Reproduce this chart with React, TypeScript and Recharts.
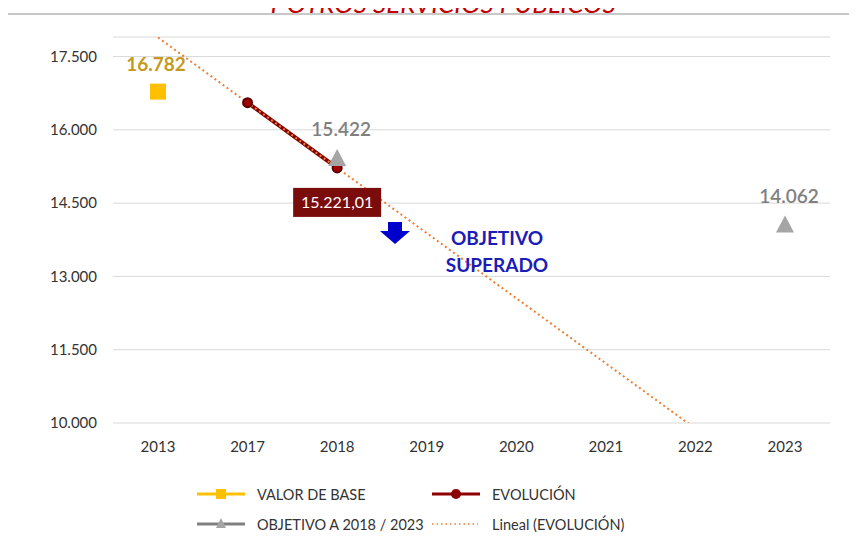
import { Line, LineChart, CartesianGrid, XAxis, YAxis } from "recharts";

const YEARS = ["2013", "2017", "2018", "2019", "2020", "2021", "2022", "2023"];
const VALOR_BASE = [16782, null, null, null, null, null, null, null];
const EVOLUCION = [null, 16555, 15221.01, null, null, null, null, null];
const OBJETIVO = [null, null, 15422, null, null, null, null, 14062];
const LINEAL = [17890, 16555, 15221, 13887, 12553, 11219, 9885, null];
const Y_TICKS = [10000, 11500, 13000, 14500, 16000, 17500];

const FONT = "Lato, 'Open Sans', sans-serif";

const data = YEARS.map((year, i) => ({
  year,
  base: VALOR_BASE[i],
  evol: EVOLUCION[i],
  obj: OBJETIVO[i],
  trend: LINEAL[i],
}));

const fmt = (v: number) => Math.round(v).toLocaleString("de-DE");

function SquareDot(props: any) {
  const { cx, cy, value, index } = props;
  if (value == null || cx == null || cy == null) return <g key={`s-${index}`} />;
  return <rect key={`s-${index}`} x={cx - 8} y={cy - 8} width={16} height={16} fill="#FFC000" />;
}

function TriangleDot(props: any) {
  const { cx, cy, value, index } = props;
  if (value == null || cx == null || cy == null) return <g key={`t-${index}`} />;
  return (
    <polygon
      key={`t-${index}`}
      points={`${cx},${cy - 9} ${cx + 9},${cy + 8} ${cx - 9},${cy + 8}`}
      fill="#A5A5A5"
    />
  );
}

function CircleDot(props: any) {
  const { cx, cy, value, index } = props;
  if (value == null || cx == null || cy == null) return <g key={`c-${index}`} />;
  return <circle key={`c-${index}`} cx={cx} cy={cy} r={4.5} fill="#A00000" stroke="#5C0000" strokeWidth={2} />;
}

function BaseLabel(props: any) {
  const { x, y, value, index } = props;
  if (value == null) return <g key={`bl-${index}`} />;
  return (
    <text key={`bl-${index}`} x={x - 2} y={y - 21} textAnchor="middle" fill="#C49A1E" fontWeight={700} fontSize={19} fontFamily={FONT}>
      {fmt(value)}
    </text>
  );
}

function ObjLabel(props: any) {
  const { x, y, value, index } = props;
  if (value == null) return <g key={`ol-${index}`} />;
  return (
    <text key={`ol-${index}`} x={x + 4} y={y - 22} textAnchor="middle" fill="#7F7F7F" fontSize={19} fontWeight={600} fontFamily={FONT}>
      {fmt(value)}
    </text>
  );
}

function EvolLabel(props: any) {
  const { x, y, value, index } = props;
  if (value == null || index !== 2) return <g key={`el-${index}`} />;
  return (
    <g key={`el-${index}`}>
      <rect x={x - 44} y={y + 20} width={88} height={29} fill="#7B0C0C" />
      <text x={x} y={y + 40} textAnchor="middle" fill="#FFFFFF" fontSize={16} fontFamily={FONT}>
        {value.toLocaleString("de-DE", { minimumFractionDigits: 2, maximumFractionDigits: 2 })}
      </text>
    </g>
  );
}

function LegendItem({ x, y, color, marker, dotted, label }: any) {
  return (
    <div style={{ position: "absolute", left: x, top: y - 10, height: 20, display: "flex", alignItems: "center" }}>
      <svg width={52} height={20}>
        {dotted ? (
          <line x1={2} y1={10} x2={48} y2={10} stroke="#ED7D31" strokeWidth={1.5} strokeDasharray="1.5 3" />
        ) : (
          <line x1={0} y1={10} x2={48} y2={10} stroke={color} strokeWidth={3} />
        )}
        {marker === "square" && <rect x={19} y={5} width={10} height={10} fill={color} />}
        {marker === "circle" && <circle cx={24} cy={10} r={5} fill={color} />}
        {marker === "triangle" && <polygon points="24,4 29,14 19,14" fill="#A5A5A5" />}
      </svg>
      <span style={{ marginLeft: dotted ? 10 : 8, fontSize: 14.5, color: "#333333", fontFamily: FONT, whiteSpace: "nowrap" }}>
        {label}
      </span>
    </div>
  );
}

export default function App() {
  return (
    <div style={{ position: "relative", margin: -8, width: 857, height: 549, overflow: "hidden", background: "#fff" }}>
      <div
        style={{
          position: "absolute",
          top: -12,
          left: 0,
          width: 882,
          textAlign: "center",
          color: "#C00000",
          fontStyle: "italic",
          fontSize: 26,
          lineHeight: "30px",
          fontFamily: FONT,
        }}
      >
        Y OTROS SERVICIOS PÚBLICOS
      </div>
      <div style={{ position: "absolute", left: 6, top: 13, width: 900, height: 600, borderTop: "2px solid #C8C8C8", borderLeft: "2px solid #C8C8C8" }} />
      <div style={{ position: "absolute", left: 0, top: 0 }}>
        <LineChart width={857} height={549} data={data} margin={{ top: 37, right: 27, bottom: 96, left: 0 }}>
          <CartesianGrid vertical={false} stroke="#D9D9D9" strokeWidth={1} />
          <XAxis
            dataKey="year"
            scale="point"
            padding={{ left: 45, right: 45 }}
            axisLine={false}
            tickLine={false}
            height={30}
            tickMargin={12}
            tick={{ fill: "#333333", fontSize: 15, fontFamily: FONT }}
          />
          <YAxis
            width={113}
            domain={[10000, 17900]}
            ticks={Y_TICKS}
            allowDataOverflow
            axisLine={false}
            tickLine={false}
            tickSize={0}
            tickMargin={16}
            tickFormatter={fmt}
            tick={{ fill: "#333333", fontSize: 15, fontFamily: FONT }}
          />
          <Line dataKey="base" stroke="#FFC000" strokeWidth={3} dot={SquareDot} label={BaseLabel} isAnimationActive={false} />
          <Line dataKey="evol" stroke="#800000" strokeWidth={4} dot={CircleDot} label={EvolLabel} isAnimationActive={false} />
          <Line dataKey="obj" stroke="#A5A5A5" strokeWidth={3} dot={TriangleDot} label={ObjLabel} isAnimationActive={false} />
          <Line dataKey="trend" stroke="#ED7D31" strokeWidth={2} strokeDasharray="2 3" dot={false} isAnimationActive={false} />
        </LineChart>
      </div>
      <svg style={{ position: "absolute", left: 378, top: 220 }} width={34} height={26}>
        <polygon points="10,2 24,2 24,11 32,11 17,24 2,11 10,11" fill="#0000CC" />
      </svg>
      <div
        style={{
          position: "absolute",
          left: 430,
          top: 224,
          width: 134,
          textAlign: "center",
          color: "#1C1CB8",
          fontWeight: 700,
          fontSize: 19,
          lineHeight: "27px",
          fontFamily: FONT,
        }}
      >
        OBJETIVO
        <br />
        SUPERADO
      </div>
      <LegendItem x={197} y={494} color="#FFC000" marker="square" label="VALOR DE BASE" />
      <LegendItem x={432} y={494} color="#8B0000" marker="circle" label="EVOLUCIÓN" />
      <LegendItem x={197} y={524} color="#808080" marker="triangle" label="OBJETIVO A 2018 / 2023" />
      <LegendItem x={430} y={524} dotted label="Lineal (EVOLUCIÓN)" />
    </div>
  );
}
